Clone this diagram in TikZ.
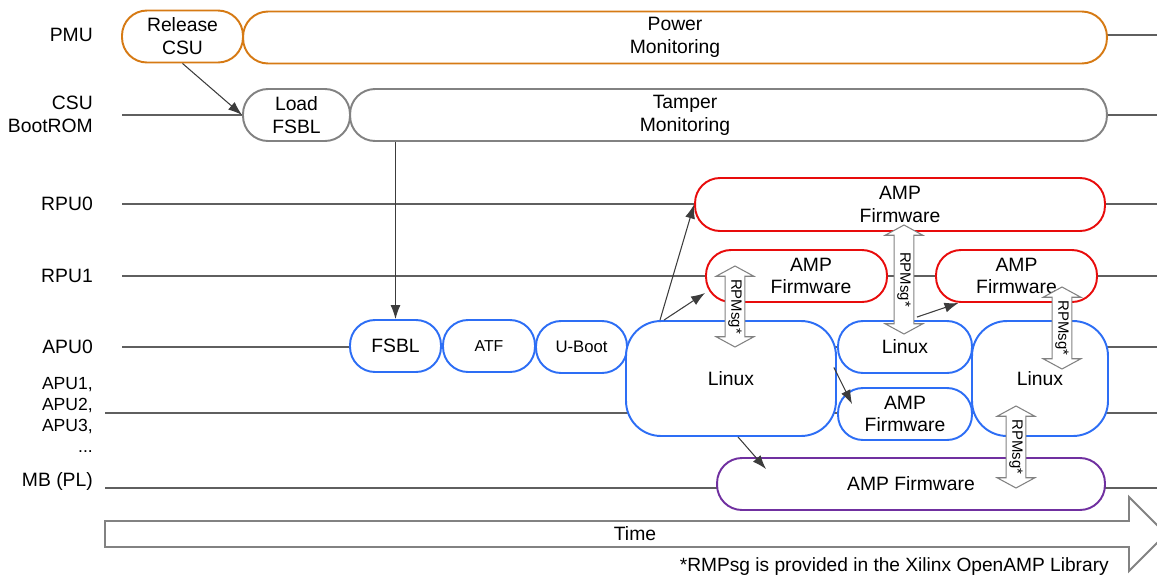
\documentclass[tikz,border=0pt]{standalone}
\usepackage{fontspec}
\setmainfont{Liberation Sans}
\usepackage{xcolor}
\usetikzlibrary{arrows.meta,calc,shapes.arrows}

\definecolor{pmuor}{RGB}{214,122,20}
\definecolor{csugr}{RGB}{130,130,130}
\definecolor{rpured}{RGB}{232,12,12}
\definecolor{apublue}{RGB}{45,110,245}
\definecolor{mbpurple}{RGB}{112,48,160}
\definecolor{lanegr}{RGB}{95,95,95}
\definecolor{arrgr}{RGB}{60,60,60}

\begin{document}
\begin{tikzpicture}[
  x=0.02cm, y=-0.02cm,
  font=\fontsize{11}{13}\selectfont,
  >=Latex,
  task/.style={draw, line width=1.1pt, fill=white, rounded corners=0.5cm, minimum height=1.04cm, align=center, inner sep=1pt},
  pmu/.style={task, draw=pmuor},
  csu/.style={task, draw=csugr},
  rpu/.style={task, draw=rpured},
  apu/.style={task, draw=apublue},
  mb/.style={task, draw=mbpurple},
  lane/.style={draw=lanegr, line width=0.6pt},
  lbl/.style={anchor=east, align=right},
  arr/.style={draw=arrgr, line width=0.6pt, -{Latex[length=2.8mm,width=2mm]}},
  rpmsg/.style={double arrow, draw=csugr, fill=white, line width=0.6pt, rotate=-90,
    font=\fontsize{8.5}{9}\selectfont, inner xsep=1pt, inner ysep=1.5pt,
    double arrow head extend=0.18cm, double arrow tip angle=123}
]
\useasboundingbox (0,0) rectangle (1157,579);

% lanes
\draw[lane] (1107,35) -- (1157,35);
\draw[lane] (122,115) -- (1157,115);
\draw[lane] (122,204) -- (1157,204);
\draw[lane] (122,276) -- (1157,276);
\draw[lane] (122,347) -- (1157,347);
\draw[lane] (105,413) -- (1157,413);
\draw[lane] (105,488) -- (1157,488);

\node[lbl] (lpmu) at (99,35) {PMU};
\node[lbl] (lcsu) at (99,114) {CSU\\BootROM};
\node[lbl] (lrpu0) at (99,204) {RPU0};
\node[lbl] (lrpu1) at (99,276) {RPU1};
\node[lbl] (lapu0) at (99,347) {APU0};
\node[lbl, font=\fontsize{10}{12}\selectfont] (lapun) at (99,415) {APU1,\\APU2,\\APU3,\\...};
\node[lbl] (lmb) at (99,481) {MB (PL)};

\node[pmu, minimum width=2.42cm] (relcsu) at (182.5,36.5) {Release\\CSU};
\node[pmu, minimum width=17.28cm] (powmon) at (675,37.5) {Power\\Monitoring};
\node[csu, minimum width=2.14cm] (loadfsbl) at (296.5,115) {Load\\FSBL};
\node[csu, minimum width=15.14cm] (tamper) at (728.5,115) {};
\node[align=center] (tampertxt) at (685,115) {Tamper\\Monitoring};
\node[rpu, minimum width=8.2cm, minimum height=1.06cm] (rpu0amp) at (900,204.5) {AMP\\Firmware};
\node[rpu, minimum width=3.62cm] (rpu1ampa) at (796.5,276) {};
\node[align=center] (rpu1ampatxt) at (811,276) {AMP\\Firmware};
\node[rpu, minimum width=3.22cm] (rpu1ampb) at (1016.5,276) {AMP\\Firmware};
\node[apu, minimum width=1.82cm] (fsbl) at (395.5,346) {FSBL};
\node[apu, minimum width=1.84cm, font=\fontsize{9}{10}\selectfont] (atf) at (489,346) {ATF};
\node[apu, minimum width=1.82cm, font=\fontsize{9.5}{10}\selectfont] (uboot) at (581.5,347) {U-Boot};
\node[apu, minimum width=4.2cm, minimum height=2.3cm, rounded corners=0.7cm] (linuxa) at (731,378.5) {Linux};
\node[apu, minimum width=2.68cm] (linuxb) at (905,347) {Linux};
\node[apu, minimum width=2.68cm] (apuamp) at (905,414) {AMP\\Firmware};
\node[apu, minimum width=2.72cm, minimum height=2.3cm, rounded corners=0.7cm] (linuxc) at (1040,378.5) {Linux};
\node[mb, minimum width=7.76cm] (mbamp) at (911,484) {AMP Firmware};

\draw[arr] (relcsu.south) -- (loadfsbl.west);
\draw[arr] (fsbl.north |- tamper.south) -- (fsbl.north);
\draw[arr] ($(linuxa.north)+(-71,0)$) -- (rpu0amp.west);
\draw[arr] ($(linuxa.north)+(-67,0)$) -- ($(rpu1ampa.west)+(0,17)$);
\draw[arr] ($(linuxa.east)+(-3,-11)$) -- ($(apuamp.north west)+(15,17)$);
\draw[arr] ($(linuxb.north)+(12,-3)$) -- ($(rpu1ampb.south)+(-58,0)$);
\draw[arr] ($(linuxa.south)+(7,0)$) -- ($(mbamp.north)+(-145,12)$);

\node[rpmsg, minimum height=1.62cm] (msga) at (735,306.5) {RPMsg*};
\node[rpmsg, minimum height=2.18cm] (msgb) at (904,279.5) {RPMsg*};
\node[rpmsg, minimum height=1.64cm] (msgc) at (1062,328) {RPMsg*};
\node[rpmsg, minimum height=1.64cm] (msgd) at (1016,447) {RPMsg*};

\draw[draw=csugr, line width=1.1pt, fill=white] (105,521) -- (1129,521) -- (1129,497) -- (1166,534)
  -- (1129,571) -- (1129,547) -- (105,547) -- cycle;
\node (time) at (635,534) {Time};
\node[anchor=east, font=\fontsize{10.9}{13}\selectfont] (note) at (1115,567) {*RMPsg is provided in the Xilinx OpenAMP Library};
\end{tikzpicture}
\end{document}
